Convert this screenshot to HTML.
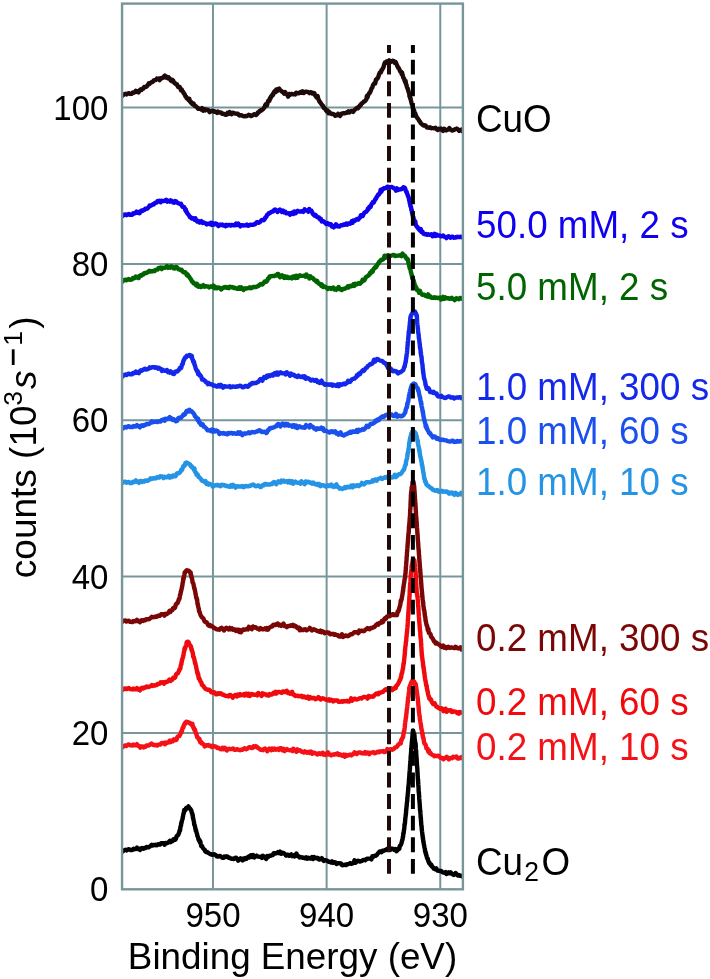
<!DOCTYPE html>
<html><head><meta charset="utf-8"><style>html,body{margin:0;padding:0;background:#fff;width:710px;height:979px;overflow:hidden}svg{display:block;will-change:transform}</style></head>
<body><svg width="710" height="979" viewBox="0 0 710 979"><rect width="710" height="979" fill="#fff"/><defs><clipPath id="c"><rect x="122.05" y="3.6" width="340.84999999999997" height="885.6999999999999"/></clipPath></defs><g stroke="#78959a" stroke-width="2"><line x1="212.97" y1="3.6" x2="212.97" y2="889.3"/><line x1="326.62" y1="3.6" x2="326.62" y2="889.3"/><line x1="440.27" y1="3.6" x2="440.27" y2="889.3"/><line x1="122.05" y1="732.96" x2="462.9" y2="732.96"/><line x1="122.05" y1="576.62" x2="462.9" y2="576.62"/><line x1="122.05" y1="420.28" x2="462.9" y2="420.28"/><line x1="122.05" y1="263.94" x2="462.9" y2="263.94"/><line x1="122.05" y1="107.60" x2="462.9" y2="107.60"/></g><g clip-path="url(#c)" fill="none" stroke-width="4.4" stroke-linejoin="round" stroke-linecap="round"><path d="M121.0 851.9L122.1 851.9L123.4 850.8L124.3 850.2L125.4 849.8L126.5 850.5L127.7 849.6L128.9 849.2L130.1 850.1L131.2 849.9L132.3 850.0L133.5 848.8L134.6 849.2L135.7 849.0L136.9 847.7L137.9 849.0L139.0 848.7L140.0 850.0L141.1 848.4L142.2 848.0L143.3 848.8L144.3 847.9L145.4 848.1L146.5 847.0L147.5 847.1L148.6 847.3L149.6 846.7L150.6 845.9L151.7 844.7L152.7 845.5L153.8 845.0L154.9 845.2L155.9 844.7L157.0 845.2L158.0 844.2L159.1 844.3L160.2 844.5L161.2 843.1L162.3 843.4L163.4 843.1L164.5 844.7L165.6 843.0L166.7 843.2L167.7 842.9L168.8 842.0L169.8 840.8L170.7 842.2L171.7 840.8L172.6 841.1L173.5 839.2L174.3 839.2L175.1 839.8L175.8 839.2L176.5 836.5L177.1 835.6L177.7 835.5L178.2 835.0L178.7 833.5L179.2 832.5L179.5 830.7L179.8 830.9L180.1 830.3L180.3 828.1L180.6 826.4L180.8 825.8L181.0 825.8L181.2 823.0L181.5 823.1L181.7 821.4L181.9 821.0L182.2 819.8L182.4 818.9L182.6 818.9L182.8 817.0L183.0 816.6L183.3 814.5L183.5 813.3L183.8 813.1L184.2 810.0L184.8 810.9L185.4 810.0L186.1 808.1L186.9 808.6L187.6 807.6L188.5 806.4L189.4 808.5L190.2 808.7L191.0 809.9L191.4 810.9L191.7 812.7L192.0 812.8L192.3 813.7L192.5 815.1L192.7 814.7L192.9 818.0L193.1 817.5L193.3 819.6L193.5 819.6L193.7 820.7L194.0 822.1L194.2 824.7L194.4 824.9L194.6 825.0L194.9 826.2L195.1 826.7L195.3 828.4L195.6 829.1L195.8 830.9L196.1 830.5L196.4 832.2L196.7 832.9L197.1 834.1L197.4 836.1L197.8 836.7L198.2 838.1L198.5 839.5L199.0 840.5L199.4 839.7L199.8 842.0L200.3 841.4L200.7 843.6L201.2 846.0L201.7 845.6L202.2 846.4L202.7 847.7L203.3 848.5L203.9 849.3L204.5 849.5L205.4 851.5L206.3 852.1L207.2 851.9L208.2 852.8L209.3 853.5L210.3 854.2L211.3 854.2L212.4 854.8L213.5 854.5L214.6 854.3L215.7 855.0L216.8 856.3L218.0 856.6L219.0 856.2L220.0 855.9L221.1 856.7L222.2 857.8L223.3 857.8L224.3 856.5L225.4 857.1L226.5 856.3L227.6 856.6L228.6 857.7L229.7 857.7L230.7 858.5L231.8 858.8L232.9 858.7L233.9 859.1L235.0 857.9L236.1 857.7L237.2 859.0L238.2 860.7L239.3 859.3L240.4 858.4L241.5 859.5L242.5 860.3L243.5 858.5L244.5 859.5L245.5 858.0L246.4 858.7L247.3 857.7L248.2 856.8L249.2 857.5L250.2 855.5L251.2 855.2L252.2 857.0L253.3 855.1L254.4 857.4L255.5 856.1L256.5 855.6L257.6 856.5L258.7 856.7L259.8 856.9L260.8 856.8L261.9 857.9L262.9 855.7L264.0 857.1L265.0 857.5L266.1 858.9L267.1 856.1L268.1 857.0L269.0 855.9L270.0 855.7L270.9 855.9L271.9 855.1L272.8 855.1L273.8 853.1L274.7 853.2L275.6 853.5L276.7 853.1L277.9 852.1L279.0 853.1L280.1 851.7L281.2 853.8L282.3 852.8L283.3 852.9L284.2 853.5L285.2 854.4L286.1 855.5L287.1 854.6L288.1 854.9L289.1 855.8L290.1 854.9L291.1 854.4L292.2 856.2L293.2 855.4L294.3 856.4L295.4 854.9L296.4 853.6L297.5 856.0L298.6 856.1L299.6 857.5L300.7 857.1L301.7 857.3L302.8 857.9L303.8 857.6L304.9 858.2L306.0 857.4L307.0 858.7L308.0 857.7L309.0 857.9L310.0 858.5L311.1 858.5L312.1 857.0L313.1 859.0L314.1 857.0L315.1 858.0L316.1 858.2L317.1 857.8L318.1 858.1L319.0 859.5L319.9 859.3L320.9 859.4L321.8 858.2L322.7 859.3L323.7 861.0L324.6 860.6L325.7 860.1L326.7 860.6L327.8 861.0L328.8 861.9L329.9 861.9L331.0 862.5L332.0 861.4L333.0 862.9L334.2 862.1L335.4 862.4L336.5 864.0L337.6 863.1L338.7 863.1L339.8 863.3L340.9 863.4L341.9 865.1L342.9 865.2L343.9 865.0L345.0 864.6L346.0 865.1L347.0 864.1L348.0 864.2L349.1 863.8L350.2 863.1L351.3 863.8L352.4 863.5L353.5 862.9L354.5 860.4L355.6 862.8L356.6 861.8L357.7 860.8L358.7 860.9L359.8 861.5L360.8 861.3L361.9 860.9L363.0 860.2L364.0 859.9L365.1 860.3L366.2 859.4L367.3 858.6L368.3 858.6L369.4 858.6L370.4 858.5L371.4 859.4L372.3 856.3L373.2 857.0L374.2 856.0L375.1 855.6L376.0 855.7L376.9 854.9L377.9 853.3L378.8 852.5L379.7 851.4L380.7 851.8L381.7 852.2L382.6 850.7L383.6 850.9L384.5 850.4L385.5 849.8L386.4 850.0L387.3 848.9L388.5 848.2L389.8 847.9L391.0 849.4L392.1 848.6L393.2 848.8L394.3 849.9L395.4 849.1L396.5 851.2L397.4 850.4L398.1 849.1L398.7 848.3L399.3 848.7L399.8 846.1L400.3 845.4L400.8 844.8L401.1 844.1L401.5 843.1L401.7 842.4L402.0 840.9L402.2 840.1L402.4 840.0L402.7 838.5L402.9 836.6L403.1 837.0L403.3 833.2L403.5 833.8L403.6 833.3L403.7 832.7L403.9 831.1L404.0 829.9L404.1 829.6L404.3 828.1L404.4 827.5L404.5 824.2L404.6 825.4L404.7 823.6L404.9 823.7L405.0 822.6L405.1 821.5L405.2 819.6L405.3 819.1L405.4 817.5L405.6 816.8L405.7 815.4L405.8 813.8L405.9 814.9L406.0 813.0L406.1 810.1L406.2 811.2L406.3 808.6L406.4 808.5L406.5 807.2L406.6 806.2L406.7 805.7L406.8 804.3L406.9 802.5L407.0 802.5L407.1 801.7L407.2 801.6L407.3 799.0L407.4 797.4L407.5 796.9L407.6 796.6L407.7 794.5L407.8 793.6L407.9 793.4L408.0 792.0L408.1 791.1L408.2 789.5L408.3 788.3L408.3 787.7L408.4 786.8L408.5 785.7L408.6 785.3L408.7 784.3L408.8 783.2L408.9 782.1L409.0 780.1L409.0 778.9L409.1 779.2L409.2 777.6L409.3 776.6L409.4 774.7L409.4 774.3L409.5 773.0L409.6 771.8L409.7 770.9L409.8 769.3L409.8 769.4L409.9 769.2L410.0 766.9L410.0 766.5L410.1 764.7L410.2 765.0L410.3 764.9L410.3 761.8L410.4 761.5L410.5 761.5L410.6 759.7L410.6 758.4L410.7 755.8L410.8 756.0L410.9 755.7L410.9 755.0L411.0 753.5L411.1 751.6L411.2 750.5L411.2 748.6L411.3 748.1L411.4 748.7L411.5 746.8L411.6 744.9L411.7 745.6L411.8 742.2L411.9 742.9L412.0 740.4L412.1 739.5L412.3 738.3L412.4 736.7L412.5 736.1L412.6 734.1L412.8 732.8L412.9 731.7L413.0 730.5L413.2 730.7L413.3 731.7L413.4 731.7L413.6 732.5L413.8 734.1L413.9 733.5L414.1 734.4L414.3 734.3L414.5 736.3L414.7 739.4L414.8 739.6L415.0 740.6L415.2 742.3L415.3 742.1L415.5 744.1L415.6 744.9L415.7 745.3L415.8 748.4L415.9 749.6L416.0 749.8L416.1 751.3L416.2 751.4L416.2 753.4L416.3 754.7L416.4 756.3L416.4 757.4L416.5 757.7L416.6 758.3L416.7 758.9L416.7 760.2L416.8 762.1L416.9 763.1L416.9 763.7L417.0 765.8L417.1 766.0L417.1 766.6L417.2 767.4L417.3 768.6L417.3 768.8L417.4 769.8L417.4 771.7L417.5 772.1L417.6 773.3L417.6 775.4L417.7 775.5L417.8 777.6L417.8 777.7L417.9 779.9L418.0 780.3L418.1 779.6L418.1 782.6L418.2 782.6L418.2 782.3L418.3 784.7L418.4 785.7L418.4 785.6L418.5 787.1L418.6 788.9L418.6 790.5L418.7 791.4L418.8 792.5L418.9 793.4L418.9 791.9L419.0 794.2L419.1 795.9L419.1 795.0L419.2 798.4L419.3 799.6L419.4 799.4L419.4 800.8L419.5 801.4L419.6 803.1L419.7 804.1L419.7 805.1L419.8 805.4L419.9 807.4L420.0 807.9L420.0 809.8L420.1 810.3L420.2 810.0L420.3 811.1L420.4 813.2L420.5 813.9L420.6 815.7L420.6 817.0L420.7 817.5L420.8 817.4L420.9 818.8L421.0 821.1L421.1 821.0L421.2 823.5L421.2 823.7L421.3 825.2L421.4 825.2L421.5 826.7L421.6 825.7L421.7 828.7L421.8 830.2L421.9 830.1L422.0 831.2L422.2 832.7L422.3 833.7L422.4 834.0L422.5 836.1L422.7 835.6L422.8 838.6L423.0 837.9L423.1 839.3L423.3 841.8L423.4 841.2L423.6 841.8L423.7 844.0L423.9 844.3L424.1 845.1L424.3 846.4L424.4 847.3L424.6 848.1L424.9 849.0L425.1 851.7L425.3 851.0L425.6 853.3L425.9 852.7L426.1 855.1L426.4 854.9L426.7 856.5L427.1 858.3L427.4 858.5L427.8 858.5L428.1 860.4L428.6 861.6L429.0 863.0L429.5 862.7L430.1 864.1L430.8 865.2L431.4 864.9L432.2 866.8L432.9 867.0L433.7 868.6L434.5 868.9L435.4 869.4L436.3 868.4L437.2 870.5L438.1 870.7L439.1 870.6L440.1 871.1L441.2 870.9L442.2 872.1L443.3 872.6L444.3 872.7L445.4 872.1L446.4 873.9L447.4 873.5L448.5 872.4L449.5 873.2L450.6 872.3L451.6 873.6L452.7 874.3L453.7 874.9L454.7 873.8L455.6 873.0L456.5 874.3L457.7 875.5L458.9 874.9L460.0 875.8L461.0 875.7L462.0 876.3L463.1 875.7L464.0 874.9L465.0 875.7" stroke="#000000"/><path d="M121.0 747.5L122.1 747.6L123.4 746.5L124.3 745.8L125.4 745.4L126.5 745.9L127.7 744.9L128.9 744.4L130.1 745.4L131.2 745.3L132.4 745.5L133.5 744.5L134.6 745.2L135.8 745.2L136.9 744.2L138.0 745.8L139.2 746.0L140.3 747.7L141.4 746.4L142.6 746.4L143.7 747.4L144.7 746.5L145.6 746.7L146.6 745.4L147.5 745.4L148.5 745.5L149.4 745.0L150.4 744.4L151.5 743.5L152.7 744.7L153.8 744.6L154.9 745.2L156.1 745.0L157.2 745.6L158.3 744.6L159.4 744.5L160.6 744.6L161.7 743.0L162.8 743.1L163.9 742.7L164.9 744.3L165.9 742.6L166.9 742.9L167.9 742.6L168.8 741.7L169.8 740.6L170.7 742.1L171.8 740.7L172.9 741.2L173.9 739.3L174.9 739.5L175.8 740.1L176.6 739.6L177.3 737.0L178.1 736.2L178.7 736.3L179.4 736.0L180.0 734.7L180.5 734.0L180.9 732.1L181.4 732.3L181.8 731.6L182.2 729.5L182.6 727.8L183.0 727.4L183.4 727.5L183.9 724.7L184.5 724.8L185.0 723.0L185.6 722.7L186.2 721.8L186.8 721.6L187.9 722.6L189.0 722.4L190.1 723.7L190.7 723.3L191.3 723.8L191.9 725.3L192.4 723.9L193.0 726.9L193.5 728.0L193.9 727.8L194.3 729.9L194.7 730.1L195.1 729.8L195.5 732.3L195.9 732.8L196.3 734.1L196.8 735.3L197.2 737.2L197.7 737.3L198.3 738.2L198.8 739.5L199.4 738.9L200.0 742.1L200.6 741.3L201.3 743.3L202.0 742.9L202.8 743.6L203.7 744.5L204.6 746.4L205.6 745.8L206.6 745.1L207.6 745.5L208.6 745.0L209.6 746.0L210.7 745.8L211.8 747.0L212.9 745.7L214.0 746.6L215.1 746.5L216.3 746.8L217.3 748.0L218.4 747.8L219.4 748.4L220.5 749.1L221.6 749.3L222.6 747.7L223.7 749.2L224.8 747.8L225.9 749.0L226.9 750.4L228.0 749.0L229.1 748.8L230.1 749.1L231.2 749.0L232.2 749.0L233.2 748.5L234.4 749.8L235.6 749.8L236.8 749.1L237.9 749.6L239.0 749.9L240.0 750.2L241.2 749.7L242.2 749.9L243.5 749.0L244.3 748.3L245.2 748.4L246.2 749.2L247.2 748.8L248.3 747.9L249.4 747.1L250.5 747.4L251.6 748.1L252.6 747.8L253.6 746.3L254.7 746.9L255.7 746.1L256.8 746.7L257.8 748.0L258.8 748.3L259.8 749.3L260.9 749.9L262.0 749.8L263.0 750.2L264.0 749.0L265.0 748.6L266.1 749.8L267.2 751.3L268.2 749.6L269.3 748.5L270.3 749.5L271.3 750.2L272.2 748.5L273.4 749.7L274.5 748.5L275.6 749.7L276.7 749.2L277.8 748.7L278.9 749.9L280.0 748.3L281.2 748.3L282.3 750.3L283.4 748.7L284.6 751.1L285.7 749.7L286.8 749.1L287.9 749.9L289.0 750.1L290.1 750.2L291.3 750.0L292.5 751.0L293.4 748.7L294.4 750.0L295.4 750.3L296.4 751.9L297.5 749.4L298.5 750.7L299.6 750.2L300.6 750.7L301.6 751.7L302.6 751.7L303.7 752.5L304.8 751.2L305.8 751.9L306.9 752.7L308.0 752.6L309.0 751.8L310.0 753.0L311.1 751.7L312.2 753.7L313.2 752.7L314.3 752.7L315.3 753.2L316.3 753.7L317.4 754.5L318.4 753.4L319.5 753.3L320.6 754.1L321.6 753.2L322.7 752.8L323.7 754.6L324.8 753.8L325.9 755.0L326.9 753.5L328.0 752.3L329.1 754.5L330.1 754.4L331.2 755.4L332.2 754.6L333.3 754.5L334.3 754.7L335.3 754.0L336.4 754.4L337.5 753.4L338.5 754.9L339.6 754.2L340.6 754.6L341.7 755.6L342.8 755.8L343.8 754.6L344.9 756.7L346.0 754.8L347.1 755.7L348.1 755.5L349.2 754.8L350.3 754.5L351.4 755.4L352.4 754.5L353.5 754.0L354.6 752.3L355.6 752.9L356.7 754.1L357.7 753.3L358.7 752.4L359.8 752.5L360.8 752.7L361.9 753.3L363.0 753.0L364.0 753.5L365.1 752.2L366.2 753.5L367.2 752.5L368.3 752.7L369.3 754.1L370.4 752.9L371.5 752.6L372.5 752.4L373.6 752.1L374.6 753.3L375.7 753.0L376.7 752.3L377.7 751.8L378.8 752.2L379.9 751.3L380.9 751.5L382.0 751.4L383.1 751.0L384.2 752.0L385.3 751.9L386.3 751.4L387.3 749.0L388.3 751.3L389.3 750.3L390.3 749.2L391.3 749.2L392.2 749.7L393.1 749.3L394.0 748.7L394.9 747.7L395.9 747.1L396.7 747.1L397.6 745.8L398.4 744.5L399.1 744.0L399.7 743.5L400.3 742.9L400.8 743.3L401.3 739.7L401.7 740.0L402.1 738.5L402.5 737.8L402.9 737.5L403.2 736.4L403.4 734.3L403.7 733.0L403.9 731.3L404.1 731.1L404.3 731.0L404.4 729.0L404.6 728.7L404.7 727.7L404.8 726.4L404.9 725.8L405.0 724.0L405.2 722.4L405.3 721.2L405.4 721.6L405.6 719.8L405.7 718.8L405.8 718.6L406.0 716.5L406.1 717.3L406.2 715.5L406.4 713.7L406.5 712.6L406.6 712.8L406.7 710.2L406.8 709.6L407.0 709.0L407.1 708.1L407.2 707.0L407.3 706.2L407.4 704.7L407.5 703.9L407.6 703.9L407.7 702.4L407.8 700.6L408.0 701.2L408.1 697.6L408.2 698.1L408.3 697.5L408.5 696.7L408.6 695.1L408.7 693.7L408.9 693.3L409.0 691.6L409.1 691.0L409.3 687.5L409.4 688.7L409.6 686.8L409.8 687.0L410.1 686.0L410.5 684.8L411.0 682.9L411.5 682.4L412.0 681.1L412.6 681.2L413.4 681.2L414.3 681.7L415.1 684.9L415.4 684.8L415.7 683.8L416.0 687.0L416.2 686.6L416.3 688.6L416.5 689.5L416.6 690.6L416.8 692.2L417.0 692.8L417.1 692.9L417.3 694.8L417.4 696.1L417.6 698.2L417.7 697.4L417.8 697.7L417.9 699.1L418.0 700.7L418.0 700.6L418.1 701.7L418.2 703.7L418.3 704.3L418.4 705.6L418.5 706.1L418.6 707.0L418.7 708.5L418.8 709.7L418.9 710.7L419.0 712.3L419.2 713.5L419.3 714.5L419.4 715.4L419.5 715.5L419.7 716.4L419.8 718.7L419.9 719.2L420.1 720.3L420.2 720.4L420.4 722.1L420.5 722.8L420.7 723.6L420.8 724.8L421.0 725.1L421.2 727.2L421.3 729.0L421.5 728.7L421.7 730.2L421.9 730.3L422.1 732.6L422.3 734.4L422.5 733.3L422.7 735.1L422.9 737.3L423.1 737.6L423.3 738.4L423.5 737.9L423.8 740.3L424.0 742.0L424.3 743.3L424.6 743.7L424.9 743.7L425.2 744.5L425.5 744.5L426.0 746.1L426.5 748.7L427.1 748.9L427.7 749.0L428.3 751.7L429.0 750.5L429.7 753.3L430.4 752.9L431.3 754.1L432.2 754.9L433.2 755.1L434.3 756.3L435.4 755.8L436.6 756.0L437.4 756.0L438.3 755.6L439.3 756.3L440.3 757.7L441.3 757.7L442.4 758.3L443.4 759.3L444.5 758.0L445.6 758.0L446.7 756.8L447.7 757.6L448.8 759.4L449.8 758.3L450.9 757.9L452.0 758.2L453.1 756.7L454.2 757.4L455.3 757.1L456.4 756.5L457.5 758.5L458.6 758.6L459.5 757.8L460.4 758.1L461.3 757.2L462.0 758.2L463.1 758.5L464.1 759.0L465.0 759.1" stroke="#f41218"/><path d="M121.0 690.2L122.1 690.3L123.4 689.3L124.3 688.7L125.4 688.4L126.5 689.2L127.7 688.4L128.9 688.0L130.1 689.1L131.2 689.1L132.3 689.5L133.5 688.6L134.6 689.3L135.7 689.3L136.9 688.2L137.9 689.5L139.0 689.1L140.0 690.3L141.1 688.4L142.2 687.8L143.3 688.5L144.3 687.4L145.4 687.6L146.5 686.5L147.5 686.7L148.6 687.1L149.7 686.6L150.7 686.1L151.8 685.0L152.8 685.9L153.8 685.4L154.8 685.5L155.8 684.9L156.8 685.1L157.7 684.0L158.7 683.9L159.6 683.9L160.6 682.3L161.7 682.5L162.9 682.2L164.0 683.7L165.1 681.9L166.2 682.2L167.3 681.8L168.4 680.8L169.5 679.6L170.5 680.9L171.5 679.5L172.4 679.7L173.2 677.7L173.9 677.6L174.6 678.0L175.3 677.3L176.0 674.5L176.6 673.7L177.2 673.7L177.9 673.3L178.4 672.0L179.0 671.1L179.5 669.1L180.0 669.1L180.3 668.6L180.6 666.6L180.9 664.9L181.1 664.4L181.4 664.4L181.6 661.6L181.8 661.7L182.0 660.0L182.3 659.5L182.5 658.4L182.8 657.6L183.0 657.6L183.2 655.8L183.5 655.4L183.7 653.3L184.0 652.0L184.2 651.6L184.5 648.4L184.8 649.4L185.1 648.6L185.5 646.5L185.9 646.5L186.3 644.6L186.7 642.1L187.2 642.7L187.6 641.6L188.0 641.6L188.7 642.4L189.4 644.6L190.1 645.2L190.5 645.9L190.8 647.1L191.1 646.6L191.4 649.8L191.8 649.3L192.1 651.5L192.4 651.5L192.7 652.8L193.0 654.2L193.2 656.7L193.5 656.9L193.7 657.0L194.0 658.3L194.3 658.8L194.5 660.6L194.8 661.3L195.0 663.3L195.3 662.9L195.6 664.7L195.8 665.4L196.1 666.5L196.4 668.5L196.6 669.1L196.9 670.5L197.1 672.0L197.3 673.0L197.6 672.2L197.8 674.5L198.1 673.9L198.4 676.1L198.7 678.4L199.0 677.9L199.4 678.6L199.9 680.1L200.3 681.0L200.9 682.0L201.4 682.5L201.9 684.7L202.5 685.5L203.2 685.6L203.8 686.8L204.5 687.8L205.4 688.8L206.3 689.1L207.3 689.9L208.3 689.8L209.3 689.8L210.3 690.7L211.3 692.2L212.2 692.6L213.2 692.4L214.1 692.2L215.1 693.1L216.1 694.4L217.0 694.4L218.0 693.2L219.1 693.9L220.3 693.2L221.4 693.6L222.5 694.7L223.7 694.7L224.8 695.6L225.9 696.0L227.1 695.8L228.3 696.4L229.4 695.2L230.5 694.9L231.5 696.2L232.7 697.7L233.8 696.1L235.0 695.0L235.9 695.8L236.9 696.5L237.9 694.5L239.0 695.5L240.1 694.2L241.3 695.3L242.4 694.8L243.5 694.3L244.5 695.5L245.6 693.8L246.6 693.7L247.7 695.5L248.7 693.7L249.8 696.0L250.8 694.5L251.9 693.9L253.0 694.6L254.0 694.7L255.1 694.8L256.1 694.5L257.2 695.4L258.3 693.0L259.3 694.2L260.4 694.4L261.5 695.9L262.5 693.3L263.6 694.5L264.7 694.0L265.7 694.3L266.8 695.2L267.8 695.0L268.8 695.6L269.8 694.0L270.8 694.3L271.7 694.5L272.6 694.0L273.6 692.7L274.6 693.4L275.6 691.8L276.5 693.5L277.5 692.2L278.5 691.9L279.5 692.0L280.6 692.3L281.6 692.9L282.7 691.5L283.7 691.4L284.7 692.1L285.7 691.2L286.8 690.8L287.9 692.9L289.0 692.4L290.0 693.8L291.1 692.7L292.1 691.8L293.1 694.5L294.2 694.7L295.2 696.0L296.3 695.6L297.3 695.7L298.4 696.2L299.4 695.9L300.5 696.4L301.5 695.7L302.6 697.2L303.7 696.4L304.7 696.8L305.8 697.6L306.8 697.9L307.9 696.6L309.0 698.7L310.0 697.0L311.1 698.1L312.2 698.3L313.2 697.9L314.3 698.0L315.3 699.2L316.4 698.7L317.4 698.5L318.4 697.1L319.5 698.0L320.6 699.5L321.6 698.9L322.7 698.3L323.7 698.7L324.8 699.0L325.9 699.9L326.9 699.8L328.0 700.4L329.1 699.3L330.1 700.6L331.1 699.7L332.2 700.0L333.2 701.5L334.3 700.5L335.3 700.4L336.4 700.5L337.5 700.4L338.5 701.9L339.6 701.9L340.7 701.5L341.8 701.2L342.8 701.8L343.9 701.0L345.0 701.3L346.0 701.2L347.0 700.8L348.0 701.6L349.1 701.5L350.1 700.9L351.1 698.4L352.1 700.7L353.2 699.7L354.2 698.7L355.2 698.8L356.2 699.5L357.3 699.3L358.3 699.0L359.3 698.3L360.3 698.1L361.4 698.5L362.4 697.7L363.4 697.0L364.4 697.0L365.5 697.2L366.5 697.4L367.5 698.6L368.5 695.9L369.6 697.0L370.6 696.4L371.6 696.4L372.6 696.8L373.5 696.4L374.5 695.1L375.4 694.4L376.4 693.4L377.3 693.8L378.2 694.3L379.1 692.8L380.0 693.0L380.9 692.6L381.8 692.0L382.9 692.0L384.0 690.7L385.0 689.7L386.1 689.1L387.1 690.1L388.1 688.9L389.1 688.7L390.2 689.4L391.3 688.3L392.3 690.1L393.3 689.3L394.3 688.1L395.0 687.5L395.7 688.1L396.4 685.7L397.0 685.2L397.6 684.7L398.1 683.8L398.7 682.6L399.2 681.8L399.6 680.4L399.9 679.7L400.3 679.8L400.6 678.4L400.9 676.7L401.2 677.3L401.5 673.7L401.7 674.1L402.0 673.5L402.2 672.6L402.4 671.0L402.7 669.5L402.9 669.1L403.1 667.6L403.2 667.1L403.4 663.8L403.5 665.1L403.7 663.3L403.8 663.5L403.9 662.3L404.1 661.2L404.2 659.4L404.3 658.9L404.4 657.3L404.5 656.6L404.6 655.3L404.7 653.7L404.8 654.6L404.9 652.6L405.0 649.6L405.1 650.7L405.2 648.0L405.3 647.8L405.4 646.6L405.5 645.6L405.7 645.1L405.8 643.7L405.9 641.9L406.0 641.9L406.1 641.2L406.2 641.2L406.3 638.6L406.4 637.1L406.5 636.6L406.6 636.4L406.7 634.3L406.8 633.4L406.9 633.3L407.0 631.9L407.1 631.1L407.2 629.6L407.3 628.4L407.4 627.7L407.5 626.8L407.5 625.7L407.6 625.2L407.7 624.3L407.7 623.3L407.8 622.2L407.9 620.3L407.9 619.1L408.0 619.4L408.1 617.9L408.1 617.0L408.2 615.1L408.3 614.8L408.3 613.5L408.4 612.4L408.5 611.5L408.5 609.9L408.6 610.0L408.7 609.8L408.7 607.5L408.8 607.0L408.9 605.2L408.9 605.5L409.0 605.3L409.1 602.2L409.1 601.9L409.2 602.0L409.3 600.3L409.3 599.1L409.4 596.6L409.5 596.9L409.5 596.7L409.6 596.0L409.6 594.5L409.7 592.6L409.7 591.5L409.8 589.7L409.9 589.2L409.9 589.7L410.0 587.8L410.0 585.9L410.1 586.8L410.1 583.7L410.2 584.8L410.3 582.7L410.3 582.2L410.4 581.5L410.5 580.1L410.6 579.7L410.6 577.8L410.7 576.5L410.8 575.2L410.9 573.6L411.0 573.1L411.0 573.2L411.1 572.2L411.2 571.6L411.3 571.6L411.4 569.3L411.5 568.4L411.6 565.9L411.8 565.5L411.9 566.2L412.1 564.0L412.3 562.7L412.5 562.2L412.9 559.5L413.4 559.7L413.9 559.9L414.4 560.5L414.6 563.2L414.8 564.2L414.9 564.3L415.0 565.6L415.1 565.8L415.2 567.9L415.3 569.3L415.4 571.1L415.5 571.9L415.5 572.0L415.6 572.5L415.7 573.0L415.7 574.1L415.8 576.0L415.8 577.0L415.9 577.7L415.9 579.9L416.0 580.3L416.0 581.0L416.1 581.9L416.2 583.2L416.2 583.6L416.3 584.6L416.3 586.5L416.4 586.9L416.5 588.0L416.5 590.0L416.6 589.9L416.7 592.0L416.8 592.2L416.9 594.2L417.1 594.4L417.2 593.8L417.3 596.8L417.4 596.7L417.6 596.4L417.7 598.9L417.8 600.1L417.9 599.9L417.9 601.3L418.0 603.0L418.1 604.5L418.2 605.3L418.2 606.3L418.3 607.2L418.3 605.7L418.4 607.9L418.5 609.6L418.5 608.6L418.6 612.1L418.7 613.3L418.7 613.2L418.8 614.5L418.8 615.2L418.9 616.9L419.0 617.9L419.1 619.0L419.1 619.3L419.2 621.3L419.3 621.8L419.4 623.7L419.4 624.3L419.5 624.1L419.6 625.1L419.7 627.3L419.8 627.9L419.9 629.6L420.0 630.9L420.1 631.4L420.2 631.3L420.3 632.6L420.3 634.9L420.4 634.8L420.5 637.3L420.6 637.5L420.7 638.9L420.8 638.9L420.9 640.4L420.9 639.3L421.0 642.2L421.1 643.8L421.2 643.8L421.2 644.9L421.3 646.5L421.4 647.6L421.4 648.0L421.5 650.0L421.5 649.4L421.6 652.3L421.7 651.5L421.7 652.9L421.8 655.3L421.9 654.7L422.0 655.1L422.1 657.5L422.2 657.8L422.4 658.7L422.5 660.1L422.7 661.1L422.8 662.0L423.0 663.0L423.1 665.9L423.3 665.3L423.4 667.6L423.6 667.0L423.7 669.3L423.9 669.1L424.0 670.6L424.1 672.4L424.3 672.6L424.4 672.6L424.5 674.6L424.7 676.0L424.8 677.5L425.0 677.5L425.1 679.0L425.3 680.3L425.5 680.2L425.7 682.3L425.9 682.8L426.1 684.7L426.3 685.3L426.5 686.3L426.7 685.7L426.9 688.4L427.1 689.3L427.3 689.9L427.5 691.3L427.8 691.8L428.0 693.8L428.3 695.1L428.6 696.0L428.9 696.2L429.3 698.6L429.7 698.9L430.1 698.5L430.5 699.8L431.1 699.6L431.7 701.5L432.4 702.9L433.1 704.0L433.9 703.5L434.6 703.2L435.4 705.0L436.2 706.6L437.1 706.4L437.9 707.7L438.8 707.9L439.7 708.9L440.6 708.7L441.6 708.2L442.6 709.3L443.6 711.1L444.6 709.3L445.7 708.7L446.7 711.7L447.8 710.8L448.8 710.3L449.8 710.6L450.8 710.2L451.9 712.0L452.9 711.8L454.0 711.4L455.1 711.7L456.1 711.9L457.2 713.1L458.2 712.4L459.1 713.6L460.0 712.1L460.8 712.4L462.0 712.6L463.0 712.6L464.0 712.9L465.0 713.7" stroke="#f00a0e"/><path d="M121.0 621.9L122.1 622.0L123.4 621.0L124.3 620.6L125.4 620.5L126.5 621.5L127.7 620.9L128.9 620.7L130.1 621.9L131.2 621.9L132.3 622.1L133.5 620.9L134.6 621.4L135.7 621.1L136.9 619.9L137.9 621.2L139.0 620.9L140.0 622.2L141.1 620.6L142.2 620.1L143.3 620.9L144.3 620.0L145.4 620.2L146.5 619.1L147.5 619.1L148.6 619.3L149.7 618.7L150.7 617.9L151.8 616.7L152.8 617.4L153.8 616.9L154.9 617.0L155.9 616.4L156.9 616.7L157.9 615.7L159.0 615.6L160.0 615.7L161.1 614.2L162.3 614.4L163.4 614.1L164.5 615.6L165.6 613.8L166.7 614.0L167.7 613.4L168.7 612.3L169.7 610.8L170.6 611.8L171.5 610.1L172.4 610.1L173.1 608.0L173.8 607.8L174.5 608.2L175.1 607.4L175.8 604.6L176.4 603.6L177.0 603.6L177.5 603.2L178.0 601.8L178.4 601.0L178.8 599.1L179.2 599.2L179.5 598.6L179.8 596.5L180.0 594.8L180.3 594.3L180.5 594.3L180.8 591.5L181.0 591.7L181.3 590.0L181.5 589.6L181.7 588.5L181.8 587.6L182.0 587.6L182.2 585.8L182.4 585.4L182.6 583.4L182.8 582.1L183.0 581.8L183.2 578.4L183.5 579.3L183.7 578.3L183.9 576.2L184.1 576.4L184.4 574.6L184.7 572.4L185.0 573.1L185.3 571.8L186.0 571.0L186.7 570.3L187.5 570.9L188.7 570.6L189.8 571.9L190.2 572.9L190.6 572.3L190.9 575.5L191.2 575.0L191.4 577.2L191.7 577.3L192.0 578.5L192.3 579.9L192.5 582.4L192.8 582.6L193.0 582.6L193.3 583.8L193.5 584.2L193.8 586.1L194.0 586.7L194.3 588.7L194.5 588.2L194.8 589.9L195.0 590.6L195.2 591.7L195.5 593.7L195.7 594.4L195.9 595.7L196.2 597.2L196.4 598.3L196.6 597.6L196.9 599.9L197.1 599.4L197.3 601.6L197.5 604.0L197.7 603.6L197.9 604.6L198.1 606.1L198.3 607.0L198.6 608.1L198.8 608.6L199.0 610.9L199.3 611.7L199.6 611.9L199.9 613.1L200.4 614.5L200.9 615.8L201.4 616.4L202.0 617.5L202.6 617.8L203.2 618.1L203.8 619.4L204.5 621.3L205.2 622.0L206.0 622.2L206.7 622.4L207.5 623.7L208.3 625.4L209.2 625.9L210.0 625.2L210.9 626.3L211.8 626.0L212.8 626.7L213.9 628.0L215.0 628.2L216.1 629.1L217.3 629.5L218.4 629.3L219.5 629.7L220.6 628.3L221.7 627.8L222.9 628.9L224.0 630.4L225.2 628.7L226.4 627.7L227.6 628.7L228.7 629.5L229.9 627.9L230.9 629.3L232.0 628.4L233.0 629.8L234.0 629.7L235.0 629.5L236.0 631.0L237.0 629.7L238.1 629.8L239.1 631.9L240.1 630.1L241.1 632.2L242.1 630.4L243.0 629.4L244.1 629.8L245.1 629.6L246.0 629.4L246.9 628.8L247.9 629.4L248.9 626.8L249.9 627.7L250.9 627.7L251.9 629.1L252.9 626.4L254.0 627.6L255.0 627.1L256.1 627.6L257.2 628.6L258.3 628.6L259.3 629.5L260.4 628.1L261.5 628.7L262.6 629.4L263.7 629.3L264.9 628.4L266.0 629.5L267.0 628.0L268.0 629.7L268.8 628.3L269.8 627.5L270.5 626.9L271.3 626.5L272.2 626.5L273.2 624.9L274.2 624.6L275.4 625.1L276.6 624.1L277.8 623.6L278.9 625.4L280.0 624.7L281.2 625.9L282.4 624.7L283.5 623.6L284.6 626.1L285.7 626.1L286.8 627.1L287.8 626.2L288.8 625.9L289.8 626.0L290.8 625.3L291.8 625.7L292.8 624.8L293.8 626.3L294.8 625.6L295.8 626.2L296.8 627.5L297.8 628.3L298.8 627.6L299.8 630.3L300.9 628.9L301.9 630.0L303.0 630.1L304.2 629.4L305.3 629.2L306.5 630.3L307.7 629.6L308.7 629.4L309.7 627.9L310.8 628.9L311.8 630.4L312.9 629.9L314.0 629.3L315.0 629.7L316.1 630.2L317.2 631.1L318.2 631.1L319.3 631.7L320.4 630.7L321.4 632.1L322.5 631.3L323.5 631.7L324.6 633.3L325.7 632.4L326.7 632.4L327.8 632.5L328.9 632.6L329.9 634.2L331.0 634.2L332.0 634.0L333.0 633.8L334.0 634.7L335.0 634.2L336.0 634.8L336.9 635.0L337.9 635.1L338.8 636.4L339.8 636.6L340.9 636.5L342.0 634.3L343.1 637.0L344.2 636.3L345.4 635.4L346.5 635.6L347.4 636.2L348.4 636.0L349.3 635.4L350.3 634.5L351.2 634.1L352.2 634.2L353.2 633.2L354.2 632.3L355.2 632.2L356.2 632.2L357.2 632.3L358.2 633.3L359.3 630.5L360.3 631.5L361.3 630.8L362.4 630.8L363.4 631.2L364.4 630.9L365.5 629.6L366.5 629.0L367.5 628.1L368.5 628.7L369.6 629.3L370.6 627.9L371.6 628.1L372.6 627.7L373.6 627.0L374.5 627.0L375.5 625.6L376.5 624.6L377.5 623.8L378.4 624.6L379.3 623.1L380.2 622.6L381.0 622.8L381.8 621.1L382.8 622.1L383.6 620.6L384.4 618.9L385.2 618.1L386.0 618.7L386.9 616.5L387.8 616.4L388.8 616.4L389.7 616.1L390.6 615.5L391.6 615.2L392.5 614.2L393.4 614.1L394.4 615.2L395.5 615.0L396.4 614.2L397.0 615.1L397.6 611.5L398.1 611.8L398.5 611.0L398.9 610.0L399.3 608.3L399.6 606.9L399.9 606.4L400.2 604.8L400.4 604.1L400.7 600.6L400.9 601.8L401.2 600.0L401.4 600.1L401.7 598.9L401.9 597.9L402.1 596.0L402.3 595.5L402.5 594.0L402.6 593.4L402.8 592.1L402.9 590.5L403.1 591.5L403.2 589.6L403.4 586.7L403.5 587.8L403.7 585.2L403.8 584.9L404.0 583.7L404.1 582.7L404.3 582.3L404.4 580.9L404.6 579.1L404.7 579.2L404.9 578.5L405.0 578.5L405.2 575.9L405.3 574.2L405.4 573.9L405.5 573.8L405.6 571.8L405.6 571.0L405.7 571.0L405.8 569.6L405.9 568.7L405.9 567.1L406.0 565.9L406.1 565.2L406.2 564.2L406.3 563.0L406.3 562.5L406.4 561.5L406.5 560.4L406.6 559.4L406.6 557.5L406.7 556.4L406.8 556.8L406.9 555.3L406.9 554.4L407.0 552.5L407.1 552.2L407.2 550.9L407.2 549.7L407.3 548.9L407.4 547.2L407.4 547.3L407.5 547.1L407.6 544.7L407.7 544.2L407.8 542.4L407.8 542.6L407.9 542.4L408.0 539.1L408.1 538.9L408.2 539.0L408.2 537.3L408.3 536.1L408.4 533.5L408.5 533.8L408.6 533.5L408.7 532.8L408.8 531.2L408.9 529.3L408.9 528.2L409.0 526.3L409.1 525.8L409.2 526.2L409.3 524.3L409.4 522.4L409.5 523.2L409.6 520.1L409.6 521.1L409.7 519.0L409.8 518.4L409.9 517.6L409.9 516.4L410.0 516.1L410.1 514.1L410.1 512.8L410.2 511.4L410.2 509.8L410.3 509.2L410.4 509.3L410.4 508.1L410.4 507.4L410.5 507.3L410.5 504.8L410.6 503.6L410.6 501.3L410.7 501.0L410.7 501.7L410.8 499.6L410.8 498.2L410.9 497.6L410.9 495.1L411.0 495.0L411.1 493.4L411.2 491.7L411.3 492.6L411.4 491.6L411.5 489.7L411.6 489.0L411.7 487.1L411.9 487.2L412.0 486.5L412.2 485.6L412.4 484.2L412.6 482.3L412.9 481.4L413.4 481.7L413.8 483.6L413.9 485.2L414.1 485.9L414.2 486.5L414.3 488.6L414.3 489.0L414.4 489.6L414.5 490.7L414.6 492.0L414.6 492.5L414.7 493.7L414.8 495.8L414.9 496.1L414.9 497.3L415.0 499.3L415.1 499.2L415.1 501.3L415.2 501.4L415.3 503.5L415.3 503.8L415.4 503.3L415.5 506.4L415.5 506.5L415.6 506.3L415.7 508.9L415.7 510.0L415.8 510.0L415.9 511.6L416.0 513.5L416.0 515.1L416.1 516.0L416.2 517.1L416.2 518.0L416.3 516.6L416.4 518.8L416.5 520.5L416.5 519.5L416.6 523.0L416.7 524.1L416.8 524.0L416.8 525.4L416.9 526.0L417.0 527.7L417.1 528.7L417.1 529.8L417.2 530.1L417.3 532.2L417.4 532.7L417.5 534.6L417.5 535.2L417.6 535.0L417.7 536.0L417.7 538.1L417.8 538.7L417.9 540.4L418.0 541.7L418.0 542.1L418.1 542.0L418.2 543.3L418.3 545.6L418.3 545.4L418.4 548.0L418.5 548.1L418.6 549.5L418.6 549.5L418.7 551.1L418.8 550.0L418.9 552.9L418.9 554.4L419.0 554.4L419.1 555.5L419.2 557.1L419.2 558.2L419.3 558.6L419.4 560.6L419.5 560.0L419.5 562.9L419.6 562.1L419.7 563.5L419.8 566.0L419.8 565.4L419.9 566.0L420.0 568.3L420.1 568.8L420.2 569.8L420.3 571.0L420.3 571.9L420.4 572.6L420.5 573.6L420.6 576.4L420.7 575.9L420.7 578.1L420.8 577.5L420.9 579.9L421.0 579.8L421.1 581.4L421.2 583.3L421.3 583.6L421.3 583.7L421.4 585.8L421.5 587.2L421.6 588.8L421.7 588.8L421.8 590.4L421.9 591.7L422.0 591.5L422.1 593.6L422.2 594.1L422.3 596.0L422.3 596.5L422.4 597.4L422.5 596.7L422.6 599.1L422.7 599.7L422.9 600.6L423.0 602.1L423.2 602.7L423.3 604.8L423.4 606.1L423.6 607.1L423.7 607.3L423.9 609.8L424.0 610.2L424.2 609.9L424.4 611.5L424.5 611.5L424.6 613.6L424.8 615.2L424.9 616.6L425.1 616.4L425.2 616.5L425.4 618.6L425.6 620.7L425.8 620.9L426.1 622.8L426.3 623.5L426.5 625.1L426.8 625.5L427.1 625.7L427.4 627.5L427.7 630.0L428.0 628.9L428.4 629.0L428.8 632.8L429.2 632.6L429.6 632.9L430.0 633.8L430.5 634.1L431.0 636.7L431.6 637.3L432.1 637.7L432.7 638.8L433.3 639.7L434.0 641.5L434.8 641.5L435.6 643.4L436.4 642.6L437.3 643.4L438.2 644.1L439.1 644.6L440.1 645.3L441.1 646.5L442.1 647.0L443.2 645.7L444.1 647.6L445.1 647.0L446.1 648.2L447.1 647.1L448.2 646.7L449.2 647.9L450.2 647.9L451.2 647.3L452.3 647.7L453.3 647.9L454.4 648.1L455.4 646.8L456.4 647.3L457.3 648.2L458.4 648.5L459.5 648.1L460.5 647.3L461.5 649.5L462.7 648.5L463.8 648.0L465.0 649.9" stroke="#7a0606"/><path d="M121.0 483.2L122.1 483.2L123.4 482.2L124.3 481.8L125.4 481.7L126.5 482.7L127.7 482.2L128.9 482.0L130.1 483.1L131.1 483.0L132.0 483.0L133.0 481.7L133.9 482.1L134.9 481.7L135.9 480.4L136.9 481.7L137.9 481.4L139.0 482.8L140.0 481.2L141.1 481.0L142.2 482.0L143.3 481.2L144.3 481.6L145.4 480.5L146.5 480.7L147.5 480.9L148.6 480.3L149.6 479.5L150.6 478.3L151.7 479.0L152.7 478.3L153.8 478.5L154.9 477.9L155.9 478.3L157.0 477.3L158.0 477.4L159.1 477.6L160.2 476.2L161.2 476.6L162.3 476.4L163.4 478.1L164.5 476.7L165.5 477.3L166.6 477.3L167.7 476.7L168.8 475.9L169.8 477.6L170.7 476.5L171.8 477.1L172.9 475.4L173.9 475.7L174.9 476.4L175.8 476.1L176.7 473.7L177.6 473.1L178.4 473.4L179.2 473.2L180.0 472.1L180.6 471.5L181.2 469.7L181.8 470.0L182.3 469.4L182.8 467.5L183.4 466.0L184.0 465.6L184.7 465.7L185.4 463.1L186.1 463.6L186.8 462.6L187.8 463.3L188.9 463.6L190.0 464.5L191.0 466.4L191.7 466.3L192.3 467.7L192.8 467.5L193.3 468.2L193.9 469.8L194.4 468.4L194.9 471.3L195.5 472.5L196.0 472.6L196.5 474.8L197.0 475.0L197.7 474.6L198.4 476.9L199.2 477.1L200.1 478.2L201.0 479.1L201.9 480.7L202.8 480.6L203.7 481.1L204.6 482.1L205.6 481.2L206.6 484.0L207.6 483.0L208.6 484.6L209.6 483.9L210.7 484.3L211.8 485.0L212.9 486.7L214.0 486.0L215.1 485.1L216.3 485.4L217.3 484.8L218.4 485.6L219.4 485.3L220.5 486.1L221.6 484.7L222.7 485.4L223.7 485.0L224.8 485.1L225.9 486.1L226.9 485.8L228.0 486.2L229.1 486.7L230.1 486.7L231.2 485.0L232.2 486.4L233.2 484.9L234.4 486.1L235.6 487.6L236.8 486.2L237.9 486.2L239.0 486.6L240.0 486.5L241.2 486.5L242.3 486.0L243.5 487.2L244.4 486.9L245.3 486.0L246.4 486.1L247.5 486.2L248.6 486.2L249.7 485.6L250.8 485.7L251.9 484.9L253.0 484.4L254.0 484.9L255.1 486.1L256.2 486.2L257.2 485.8L258.3 485.4L259.3 486.1L260.4 487.1L261.5 486.7L262.5 485.1L263.6 485.3L264.6 484.0L265.7 484.0L266.7 484.6L267.7 484.2L268.8 484.6L269.9 484.6L270.9 484.0L272.0 484.2L273.0 482.6L274.1 482.0L275.2 482.9L276.2 484.3L277.3 482.4L278.4 481.2L279.4 481.9L280.4 482.5L281.5 480.6L282.5 481.7L283.6 480.5L284.6 481.7L285.7 481.3L286.8 481.1L287.8 482.4L288.9 480.9L289.9 480.9L291.0 482.9L292.1 481.2L293.1 483.6L294.2 482.2L295.3 481.6L296.3 482.5L297.3 482.7L298.4 482.9L299.4 482.7L300.5 483.7L301.5 481.3L302.6 482.6L303.7 482.8L304.7 484.2L305.8 481.4L306.9 482.4L307.9 481.7L309.0 482.0L310.0 482.9L311.1 482.8L312.2 483.7L313.2 482.5L314.3 483.4L315.3 484.3L316.3 484.5L317.4 483.9L318.4 485.3L319.5 484.1L320.6 486.1L321.6 485.1L322.7 485.1L323.7 485.4L324.8 485.9L325.9 486.6L326.9 485.4L328.0 485.3L329.1 486.1L330.1 485.2L331.2 484.6L332.3 486.5L333.3 485.7L334.4 486.9L335.4 485.5L336.4 484.4L337.5 486.9L338.5 487.2L339.6 488.6L340.6 488.3L341.6 488.5L342.5 488.9L343.2 488.3L344.1 488.4L345.0 487.0L345.8 488.0L346.7 486.9L347.7 486.8L348.9 487.4L350.0 487.2L351.2 485.6L352.4 487.4L353.5 485.4L354.6 486.2L355.6 486.1L356.7 485.4L357.7 485.1L358.8 486.1L359.8 485.3L360.9 484.8L361.9 482.9L363.0 483.4L364.0 484.4L365.1 483.4L366.2 482.3L367.2 482.2L368.3 482.1L369.3 482.4L370.4 481.9L371.5 481.9L372.5 480.3L373.6 481.2L374.7 479.7L375.7 479.5L376.8 480.6L377.8 479.1L378.8 478.6L379.9 478.2L380.9 477.8L382.0 478.9L383.0 478.5L384.0 477.8L385.0 477.2L386.0 477.7L387.1 476.7L388.1 477.0L389.1 476.9L390.1 476.6L391.1 477.6L392.4 477.5L393.6 477.1L394.8 474.7L396.0 477.1L397.1 475.9L398.2 474.5L399.3 474.1L400.3 474.2L401.1 473.5L401.9 472.5L402.7 471.1L403.4 470.1L404.0 469.7L404.4 468.1L404.8 466.6L405.1 465.8L405.3 465.0L405.5 464.3L405.8 464.6L406.1 461.0L406.3 461.3L406.5 459.8L406.8 459.0L407.0 458.7L407.2 457.5L407.4 455.5L407.6 454.2L407.8 452.5L408.0 452.4L408.1 452.3L408.3 450.2L408.4 449.8L408.6 448.8L408.8 447.5L408.9 447.0L409.0 445.1L409.2 443.6L409.3 442.3L409.5 442.7L409.7 440.8L409.8 439.8L410.0 439.5L410.2 437.4L410.4 438.2L410.7 436.5L411.1 434.4L411.5 433.0L412.0 433.2L412.6 431.0L413.8 431.3L415.0 432.4L415.5 433.2L415.9 433.9L416.2 435.2L416.5 435.8L416.8 437.1L417.0 439.0L417.3 439.5L417.5 439.7L417.7 442.2L417.8 440.7L418.0 443.2L418.2 444.6L418.4 445.9L418.6 446.3L418.8 447.1L419.0 448.8L419.1 449.3L419.3 450.9L419.5 449.6L419.7 453.0L419.9 453.2L420.1 455.5L420.3 456.3L420.5 457.3L420.7 457.5L420.9 459.1L421.1 459.6L421.3 461.0L421.5 461.8L421.7 462.4L421.9 465.4L422.1 465.5L422.2 464.6L422.4 467.7L422.6 467.1L422.8 469.0L422.9 469.8L423.1 470.8L423.3 472.4L423.4 472.9L423.6 473.0L423.8 475.1L424.0 476.4L424.1 478.4L424.3 477.9L424.5 478.3L424.8 479.8L425.1 481.5L425.5 481.4L425.9 482.4L426.3 484.2L426.9 484.7L427.5 485.7L428.2 485.7L428.9 486.3L429.8 487.3L430.7 488.0L431.7 488.4L432.6 489.5L433.6 490.1L434.6 490.5L435.6 490.8L436.6 490.1L437.6 490.2L438.7 491.7L439.7 491.3L440.8 491.5L441.9 490.8L443.0 491.7L444.0 491.5L445.0 491.5L446.0 491.9L447.0 491.4L448.1 492.7L449.1 493.6L450.2 492.5L451.2 493.2L452.2 492.5L453.2 493.9L454.4 494.8L455.6 492.8L456.7 493.7L457.9 494.9L459.1 494.3L460.1 494.2L461.1 492.8L462.0 494.2L463.1 495.0L464.1 495.4L465.0 494.9" stroke="#2594e4"/><path d="M121.0 429.1L122.1 429.1L123.4 427.9L124.3 427.2L125.4 426.9L126.5 427.5L127.7 426.6L128.9 426.1L130.1 427.1L131.2 427.0L132.3 427.1L133.5 426.0L134.6 426.5L135.7 426.3L136.9 425.1L137.9 426.4L139.0 426.1L140.0 427.3L141.1 425.6L142.2 425.2L143.3 425.9L144.3 424.9L145.4 425.1L146.5 423.9L147.5 424.0L148.6 424.1L149.7 423.5L150.7 422.6L151.8 421.4L152.8 422.2L153.8 421.7L155.0 421.9L156.2 421.5L157.3 422.1L158.4 421.3L159.5 421.4L160.6 421.6L161.7 420.0L162.7 420.0L163.6 419.4L164.6 420.7L165.6 418.8L166.6 419.1L167.7 418.8L168.7 418.1L169.7 417.1L170.7 419.0L171.8 418.5L172.8 420.0L173.9 419.3L174.9 420.3L176.0 421.3L177.1 420.9L178.1 418.4L179.2 417.7L180.1 418.0L180.9 417.9L181.7 416.8L182.5 416.1L183.4 414.5L184.2 414.9L185.0 414.4L185.9 412.4L186.7 410.9L187.6 410.8L188.4 411.5L189.5 409.8L190.6 411.4L191.7 411.3L192.7 412.6L193.5 413.2L194.2 414.2L194.8 416.1L195.5 416.3L196.1 417.8L196.7 417.7L197.2 418.5L197.7 420.1L198.2 418.9L198.8 421.9L199.4 422.9L200.1 422.8L201.0 424.8L201.8 424.9L202.7 424.3L203.6 426.6L204.5 426.7L205.5 427.7L206.5 428.7L207.5 430.3L208.5 430.0L209.6 430.4L210.7 430.9L211.8 429.5L212.9 431.8L214.1 430.2L215.2 431.4L216.3 430.5L217.4 431.0L218.4 431.9L219.3 434.0L220.3 433.6L221.4 433.1L222.5 433.5L223.6 433.0L224.7 433.8L225.9 433.5L227.1 434.3L228.2 432.9L229.3 433.5L230.4 433.0L231.6 432.9L232.7 433.7L233.8 433.2L235.0 433.4L236.0 433.9L237.1 433.9L238.1 432.3L239.2 433.8L240.3 432.4L241.4 433.7L242.4 435.2L243.5 433.7L244.6 433.4L245.6 433.7L246.7 433.3L247.7 433.1L248.7 432.3L249.8 433.3L250.8 432.9L251.9 432.0L253.0 432.1L254.1 432.2L255.2 432.2L256.3 431.5L257.4 431.6L258.4 430.8L259.4 430.1L260.4 430.6L261.5 431.8L262.5 432.1L263.5 431.9L264.4 431.7L265.4 432.3L266.3 433.0L267.1 432.3L267.9 430.2L268.7 430.0L269.6 428.3L270.5 427.9L271.4 428.3L272.3 427.6L273.3 427.6L274.2 427.2L275.2 426.4L276.3 426.3L277.3 424.6L278.3 424.0L279.3 424.9L280.4 426.4L281.4 424.7L282.5 423.6L283.6 424.6L284.6 425.5L285.7 423.8L286.8 425.1L287.8 424.2L288.9 425.7L290.0 425.5L291.0 425.4L292.1 426.7L293.1 425.2L294.2 425.2L295.3 427.2L296.3 425.6L297.4 428.0L298.5 426.7L299.5 426.2L300.6 427.2L301.6 427.4L302.6 427.5L303.8 427.2L304.9 427.8L306.1 425.1L307.2 426.0L308.3 426.0L309.4 427.5L310.4 425.0L311.4 426.5L312.3 426.4L313.3 427.2L314.2 428.6L315.2 428.8L316.1 429.7L317.2 428.2L318.2 428.6L319.2 428.9L320.2 428.5L321.2 427.7L322.2 429.1L323.2 428.3L324.2 430.9L325.2 430.5L326.3 430.8L327.3 431.4L328.4 431.9L329.5 432.6L330.7 431.4L331.8 431.3L333.0 432.2L334.0 431.5L335.1 431.3L336.3 433.5L337.4 433.1L338.5 434.6L339.6 433.4L340.6 432.4L341.5 434.8L342.7 434.7L343.8 435.6L345.0 434.6L345.9 434.2L346.9 434.1L347.9 433.2L349.0 433.1L350.2 431.8L351.3 432.7L352.4 431.5L353.5 431.4L354.6 431.9L355.6 431.8L356.7 430.1L357.7 432.0L358.8 429.8L359.8 430.5L360.9 430.3L361.9 429.4L362.9 428.9L363.8 429.6L364.8 428.6L365.7 427.8L366.7 425.7L367.6 426.0L368.5 426.8L369.5 425.6L370.4 424.2L371.3 423.9L372.1 423.6L372.9 423.7L373.8 422.9L374.6 422.7L375.4 420.8L376.3 421.4L377.1 419.8L377.9 419.3L378.8 420.2L379.7 418.5L380.7 417.7L381.6 417.0L382.6 416.3L383.5 417.0L384.5 416.4L385.4 415.4L386.4 414.7L387.3 415.0L388.4 414.1L389.6 414.5L390.7 414.5L391.8 414.5L392.9 415.8L394.0 416.0L395.1 415.9L396.1 413.9L397.2 416.8L398.2 416.3L399.2 415.6L400.1 415.9L401.2 416.4L402.3 416.0L403.3 415.2L404.2 413.9L404.7 413.1L405.2 412.7L405.5 411.1L405.8 409.4L406.1 408.5L406.4 407.7L406.7 406.9L407.0 407.3L407.2 403.8L407.5 404.1L407.7 402.6L407.9 401.9L408.1 401.6L408.4 400.4L408.6 398.4L408.8 397.1L409.0 395.5L409.2 395.3L409.4 395.2L409.6 393.0L409.8 392.6L410.0 391.6L410.2 390.4L410.5 389.9L410.8 388.2L411.3 386.5L411.9 385.1L412.6 385.5L413.2 383.8L413.9 383.5L414.7 384.6L415.5 384.3L416.3 387.3L417.0 387.8L417.4 387.8L417.8 388.6L418.1 390.8L418.4 390.2L418.7 391.7L419.0 393.2L419.2 394.5L419.5 395.4L419.7 396.6L420.0 397.1L420.2 398.2L420.4 400.2L420.6 400.8L420.8 401.0L421.0 403.6L421.2 402.1L421.4 404.6L421.6 406.1L421.8 407.3L422.0 407.7L422.2 408.3L422.3 410.1L422.5 410.6L422.7 412.1L422.9 410.8L423.1 414.2L423.3 414.4L423.5 416.6L423.7 417.5L423.9 418.5L424.1 418.6L424.4 420.3L424.6 420.9L424.9 422.3L425.1 423.1L425.4 423.7L425.7 426.7L426.0 426.7L426.3 425.7L426.7 428.7L427.1 428.1L427.6 429.9L428.0 430.6L428.5 431.5L429.0 432.9L429.6 433.3L430.2 433.2L431.0 435.0L431.9 435.9L432.9 437.5L433.8 436.5L434.8 436.5L435.7 437.5L436.6 438.7L437.5 438.0L438.5 438.5L439.6 439.8L440.5 439.6L441.4 440.0L442.3 439.6L443.3 439.7L444.4 440.2L445.5 440.4L446.5 440.5L447.6 441.1L448.7 441.4L449.8 441.5L450.8 441.5L451.9 440.7L453.0 440.6L454.1 442.0L455.2 441.6L456.3 441.7L457.4 440.9L458.5 441.6L459.5 441.3L460.4 441.2L461.3 441.4L462.0 440.9L463.1 442.0L464.1 442.8L465.0 441.5" stroke="#1a50ee"/><path d="M121.0 376.9L122.1 376.8L123.4 375.6L124.3 374.9L125.4 374.5L126.5 375.1L127.7 374.1L128.9 373.6L130.1 374.4L131.1 374.2L132.1 374.2L133.0 372.9L134.0 373.3L135.0 372.9L135.9 371.6L136.9 372.7L137.9 372.1L138.9 373.1L139.9 371.1L140.9 370.3L141.8 370.8L142.8 369.7L143.7 369.8L144.7 368.7L145.7 369.0L146.7 369.5L147.7 369.2L148.7 368.6L149.7 367.4L150.7 368.0L151.8 367.3L152.8 367.4L153.8 367.0L154.8 367.7L155.8 367.2L156.9 367.8L157.9 368.6L158.9 367.7L159.9 368.6L160.9 368.8L161.8 370.9L162.9 369.8L163.9 370.7L164.8 370.9L165.8 370.6L166.9 370.1L167.9 372.1L168.9 371.5L169.8 372.6L170.7 371.4L171.9 372.4L173.0 373.9L174.1 374.1L174.9 371.9L175.8 371.4L176.7 371.6L177.5 371.4L178.3 370.3L179.1 369.7L179.8 368.1L180.5 368.4L181.1 368.0L181.7 366.0L182.1 364.4L182.5 364.0L182.8 364.0L183.2 361.3L183.5 361.4L183.8 359.8L184.2 359.5L184.8 358.2L185.4 357.2L186.1 357.2L186.8 355.7L188.2 355.8L189.6 354.9L190.4 355.3L191.1 357.0L191.8 355.9L192.2 358.7L192.6 359.7L192.9 359.7L193.3 361.9L193.6 362.2L194.0 361.9L194.4 364.5L194.8 364.9L195.1 366.2L195.5 367.4L195.9 369.4L196.3 369.5L196.7 370.4L197.2 371.7L197.7 371.0L198.2 374.1L198.8 373.3L199.5 375.3L200.1 375.0L200.8 376.0L201.4 377.2L202.1 379.6L202.8 379.5L203.6 379.5L204.4 380.6L205.2 380.8L206.1 382.4L207.0 382.7L207.9 384.2L208.9 383.2L210.0 384.3L211.1 384.2L212.2 384.5L213.4 385.7L214.6 385.5L215.6 386.0L216.6 386.5L217.7 386.6L218.8 385.0L219.9 386.4L221.0 384.9L222.0 386.2L223.1 387.6L224.2 386.2L225.2 386.2L226.3 386.6L227.4 386.6L228.5 386.6L229.5 386.1L230.5 387.4L231.5 387.2L232.7 386.4L233.8 386.6L234.8 386.7L235.9 386.8L237.0 386.3L238.0 386.5L239.1 386.0L240.2 385.6L241.3 386.2L242.4 387.3L243.5 387.3L244.5 386.6L245.5 385.9L246.6 386.2L247.7 386.8L248.7 386.2L249.8 384.4L250.9 384.5L251.9 383.1L252.9 382.9L253.8 383.4L254.8 382.8L255.7 383.0L256.6 382.8L257.6 382.0L258.5 381.8L259.5 380.0L260.4 379.1L261.3 379.8L262.3 380.8L263.2 378.7L264.1 377.1L265.0 377.6L266.0 377.9L266.9 375.7L267.9 376.6L268.8 375.2L269.8 376.1L270.9 375.3L272.0 374.6L273.0 375.5L274.1 373.5L275.2 373.0L276.2 374.6L277.3 372.5L278.3 374.6L279.4 373.0L280.4 372.3L281.5 373.1L282.5 373.3L283.6 373.4L284.7 373.3L285.7 374.4L286.8 372.2L287.8 373.6L288.9 374.1L290.0 375.8L291.0 373.5L292.1 374.9L293.1 374.6L294.2 375.1L295.2 376.2L296.3 376.1L297.4 376.9L298.4 375.6L299.5 376.3L300.5 377.0L301.6 376.9L302.6 376.3L303.7 377.5L304.7 376.4L305.8 378.7L306.9 377.9L307.9 378.1L309.0 378.7L310.0 379.5L311.1 380.5L312.2 379.6L313.2 379.8L314.2 380.8L315.3 380.1L316.3 379.9L317.4 382.0L318.4 381.5L319.5 382.9L320.6 381.7L321.6 380.7L322.7 383.3L323.8 383.5L324.9 384.8L325.9 384.3L327.0 384.4L328.0 384.8L329.1 384.4L330.3 384.9L331.3 384.2L332.4 385.6L333.5 384.8L334.7 385.1L335.7 385.8L336.8 385.9L337.8 384.4L338.9 386.2L340.0 384.2L341.1 384.9L342.1 384.7L343.2 383.9L344.2 383.5L345.2 384.3L346.1 383.4L347.1 382.7L348.1 380.8L349.1 381.1L350.0 382.0L350.9 380.8L351.8 379.5L352.7 379.1L353.6 378.7L354.4 378.6L355.3 377.7L356.1 377.3L356.9 375.3L357.7 375.7L358.5 373.9L359.3 373.4L360.0 374.2L360.8 372.4L361.5 371.6L362.3 370.9L363.0 370.1L363.8 370.8L364.5 370.0L365.3 368.9L366.1 367.8L367.0 367.6L367.8 366.0L368.6 365.6L369.5 364.8L370.3 363.9L371.2 364.3L372.0 363.7L373.0 362.7L374.0 359.7L375.0 361.6L376.0 360.2L377.0 359.0L378.0 359.1L379.0 360.0L380.1 360.5L381.1 360.8L382.0 361.0L383.0 361.6L383.8 362.8L384.5 362.8L385.2 363.0L385.9 364.0L386.6 365.1L387.3 366.2L388.1 368.3L388.9 366.4L389.7 368.4L390.6 368.6L391.5 369.5L392.3 370.9L393.2 371.3L394.0 370.8L395.0 371.1L396.1 371.1L397.1 372.4L398.1 373.4L399.1 372.1L400.2 372.4L401.3 371.7L402.3 370.7L403.2 370.3L403.7 368.7L404.1 367.4L404.4 366.2L404.7 366.7L405.0 364.8L405.2 363.7L405.4 363.4L405.6 361.1L405.8 361.7L406.0 359.8L406.2 357.8L406.4 356.8L406.5 357.0L406.6 354.5L406.8 353.8L406.9 353.3L407.0 352.4L407.1 351.2L407.2 350.4L407.3 348.8L407.3 348.0L407.4 347.9L407.5 346.4L407.6 344.6L407.7 345.1L407.8 341.5L407.9 341.9L408.0 341.3L408.1 340.5L408.2 338.8L408.3 337.5L408.4 337.1L408.5 335.5L408.6 335.0L408.7 331.6L408.8 332.9L408.9 331.1L409.1 331.3L409.2 330.1L409.3 329.1L409.4 327.2L409.5 326.7L409.7 325.0L409.8 324.3L409.9 322.9L410.0 321.2L410.1 322.1L410.2 320.2L410.4 317.2L410.6 318.3L410.8 315.8L411.0 315.8L411.3 314.9L412.1 313.5L413.0 313.0L413.9 312.1L414.9 311.5L415.9 313.3L416.2 314.1L416.4 315.7L416.6 315.0L416.8 315.4L416.9 317.0L417.0 318.9L417.0 318.9L417.1 320.3L417.2 322.4L417.3 323.2L417.4 324.5L417.5 325.1L417.6 325.9L417.7 327.2L417.8 328.3L418.0 329.2L418.1 330.7L418.2 331.8L418.3 332.9L418.4 333.9L418.5 334.0L418.7 334.9L418.8 337.3L418.9 337.8L419.0 338.9L419.1 339.0L419.3 340.7L419.4 341.5L419.5 342.3L419.6 343.5L419.8 343.9L419.9 346.1L420.0 347.8L420.2 347.5L420.3 349.1L420.5 349.2L420.6 351.5L420.7 353.3L420.9 352.1L421.0 353.9L421.2 356.0L421.3 356.3L421.5 357.2L421.6 356.8L421.7 359.1L421.8 360.8L422.0 362.2L422.1 362.7L422.2 362.9L422.3 363.9L422.4 364.2L422.6 365.8L422.7 368.5L422.8 368.7L422.9 368.9L423.1 371.8L423.2 370.8L423.3 373.8L423.5 373.7L423.6 375.2L423.8 376.3L423.9 376.9L424.1 378.5L424.3 378.8L424.6 379.7L424.8 380.6L425.0 381.1L425.3 382.7L425.5 384.8L425.9 385.6L426.3 386.9L426.7 388.7L427.3 388.2L427.9 388.8L428.6 388.3L429.3 389.8L430.1 392.1L431.0 391.6L431.8 391.8L432.7 392.7L433.6 391.8L434.5 393.2L435.5 393.4L436.5 393.4L437.5 395.9L438.5 396.5L439.6 396.1L440.5 396.7L441.5 395.9L442.5 397.0L443.5 397.3L444.5 397.9L445.6 398.0L446.6 397.2L447.7 396.8L448.7 396.4L449.8 396.6L450.8 397.5L451.9 397.6L453.0 397.3L454.1 398.5L455.2 397.9L456.3 397.5L457.4 397.5L458.5 397.7L459.5 397.1L460.4 397.1L461.3 398.1L462.0 397.5L463.1 397.8L464.1 398.8L465.0 397.9" stroke="#1428ec"/><path d="M121.0 281.9L122.1 281.8L123.4 280.6L124.3 280.0L125.4 279.6L126.5 280.3L127.7 279.4L128.9 279.0L130.1 279.8L131.0 279.5L131.9 279.5L132.9 278.1L133.8 278.4L134.8 278.0L135.8 276.5L136.7 277.5L137.7 276.9L138.6 278.0L139.5 276.0L140.5 275.3L141.4 275.7L142.4 274.5L143.3 274.5L144.2 273.1L145.2 273.0L146.1 273.2L147.0 272.6L148.2 271.8L149.3 270.7L150.4 271.6L151.6 271.2L152.7 271.4L153.8 270.8L154.8 271.0L155.7 269.8L156.7 269.6L157.6 269.5L158.6 267.9L159.6 268.0L160.6 267.6L161.6 269.2L162.6 267.6L163.7 267.9L164.8 267.8L165.9 267.1L166.9 266.2L168.0 267.9L169.0 266.9L170.2 267.7L171.3 266.3L172.5 267.0L173.6 268.3L174.7 268.5L175.8 266.9L176.8 267.2L177.8 268.4L178.8 269.4L179.7 269.5L180.7 270.1L181.6 269.7L182.5 271.4L183.4 272.4L184.3 272.1L185.2 272.1L186.0 273.3L186.8 275.2L187.6 274.3L188.3 276.2L189.1 276.4L189.8 277.9L190.5 278.7L191.2 279.8L192.0 281.6L192.7 281.7L193.5 283.2L194.3 283.1L195.1 283.8L195.9 285.2L196.8 283.7L197.7 286.2L198.7 286.7L199.8 285.9L201.0 287.1L202.2 286.4L203.3 285.1L204.5 286.7L205.6 286.1L206.8 286.3L207.9 286.5L209.0 287.4L210.2 286.5L211.3 286.5L212.4 287.0L213.5 285.7L214.6 288.2L215.7 287.0L216.8 288.3L218.0 287.4L219.0 287.6L220.0 288.0L221.1 289.5L222.2 288.6L223.3 287.5L224.3 287.6L225.4 286.9L226.5 287.7L227.6 287.3L228.6 288.1L229.7 286.7L230.8 287.4L231.8 287.0L232.9 287.1L233.9 288.1L235.0 287.8L236.1 288.2L237.1 288.8L238.2 288.9L239.3 287.3L240.3 288.8L241.4 287.4L242.4 288.6L243.5 290.0L244.6 288.5L245.6 288.3L246.7 288.5L247.7 288.2L248.8 288.0L249.8 287.2L250.9 288.3L251.9 287.9L253.0 286.9L254.1 287.0L255.2 287.0L256.3 287.0L257.4 286.2L258.4 286.1L259.4 285.0L260.4 284.1L261.3 284.0L262.2 284.5L263.1 283.8L263.9 282.6L264.7 281.5L265.5 281.4L266.3 281.8L267.2 280.8L268.0 278.6L268.8 278.3L269.6 276.5L270.4 276.1L271.3 276.4L272.2 275.9L273.2 276.1L274.2 276.0L275.2 275.4L276.3 275.6L277.3 274.2L278.2 273.9L279.2 275.3L280.1 277.2L281.1 276.0L282.1 275.4L283.0 276.7L284.0 277.8L285.1 276.3L286.3 277.7L287.4 276.8L288.5 278.1L289.7 277.8L290.8 277.4L291.9 278.5L293.0 276.7L294.2 276.3L295.3 277.9L296.4 275.8L297.5 277.8L298.6 276.1L299.8 275.3L301.0 275.9L302.1 275.9L303.2 275.9L304.3 275.7L305.4 276.7L306.4 274.5L307.4 276.1L308.4 276.6L309.4 278.5L310.3 276.2L311.3 277.8L312.3 277.7L313.3 278.5L314.3 279.9L315.2 280.3L316.1 281.6L317.0 280.8L317.8 282.2L318.6 283.5L319.4 284.1L320.3 283.9L321.2 285.6L322.1 284.7L323.0 287.1L324.0 286.4L324.9 286.6L325.9 287.3L327.0 288.1L328.0 289.0L329.0 288.0L330.0 288.0L331.1 288.9L332.1 288.0L333.2 287.6L334.3 289.5L335.3 288.7L336.4 289.8L337.5 288.3L338.6 287.0L339.6 289.2L340.7 289.0L341.8 290.0L342.9 289.1L343.9 288.7L345.0 288.7L346.0 287.8L346.9 287.8L347.8 286.4L348.8 287.3L349.7 286.0L350.6 285.8L351.5 286.2L352.5 285.9L353.4 284.2L354.4 285.9L355.3 283.8L356.3 284.5L357.3 284.2L358.2 283.4L359.2 283.0L360.1 283.7L361.0 282.6L361.9 281.8L362.7 279.6L363.6 279.7L364.3 280.3L365.1 278.9L365.8 277.3L366.6 276.7L367.3 276.2L368.0 276.1L368.7 275.1L369.4 274.8L370.1 272.7L370.7 273.3L371.4 271.5L372.0 270.9L372.7 271.5L373.3 269.6L374.0 268.7L374.6 267.9L375.3 266.9L375.9 267.4L376.5 266.4L377.2 265.0L377.8 263.8L378.4 263.5L379.1 261.9L379.8 261.4L380.5 260.7L381.3 259.7L382.1 260.1L382.9 259.5L383.8 258.6L384.6 255.7L385.5 257.8L386.4 256.6L387.3 255.4L388.4 255.3L389.6 255.9L390.8 255.8L391.9 255.5L393.0 255.0L394.0 255.0L395.2 256.0L396.3 255.9L397.4 255.6L398.4 255.6L399.4 255.4L400.5 255.2L401.5 256.2L402.5 253.5L403.4 255.1L404.3 255.3L405.2 256.3L406.0 257.9L406.7 258.8L407.1 258.5L407.5 259.1L407.9 259.4L408.2 261.3L408.5 263.3L408.8 263.3L409.0 265.1L409.3 266.2L409.5 267.1L409.8 268.6L410.1 268.8L410.4 269.3L410.6 270.0L410.9 272.5L411.2 272.6L411.4 273.7L411.7 275.5L411.9 275.3L412.2 278.1L412.5 278.3L412.8 278.5L413.1 279.3L413.4 281.5L413.8 280.9L414.1 282.3L414.5 283.7L414.9 284.8L415.3 285.7L415.7 286.9L416.1 287.3L416.6 288.3L417.1 290.1L417.7 290.5L418.4 290.5L419.1 292.8L419.9 290.9L420.7 293.0L421.6 294.0L422.5 294.8L423.4 294.7L424.4 294.8L425.3 295.9L426.2 295.7L427.2 296.5L428.2 294.4L429.3 296.9L430.3 296.3L431.4 297.7L432.5 297.8L433.5 297.9L434.6 297.3L435.6 298.0L436.7 297.6L437.8 298.1L438.9 297.9L439.9 297.5L441.0 299.5L442.1 298.7L443.2 296.8L444.3 298.9L445.4 297.4L446.4 298.2L447.5 298.1L448.5 298.2L449.6 298.8L450.6 298.5L451.7 297.8L452.7 298.9L453.7 299.2L454.7 300.2L455.6 298.7L456.5 298.2L457.7 298.7L458.9 299.2L460.0 298.0L461.0 298.0L462.0 298.8L463.1 298.4L464.0 298.6L465.0 298.1" stroke="#006400"/><path d="M121.0 216.4L122.1 216.4L123.4 215.3L124.3 214.7L125.4 214.5L126.5 215.2L127.7 214.4L128.9 214.0L130.1 214.9L131.1 214.7L132.2 214.7L133.2 213.3L134.3 213.6L135.4 213.1L136.5 211.7L137.5 212.7L138.6 212.1L139.6 213.2L140.5 211.3L141.5 210.6L142.4 211.1L143.4 210.0L144.3 210.0L145.2 208.7L146.1 208.6L147.0 208.7L147.9 208.0L148.8 207.0L149.6 205.5L150.4 206.0L151.3 205.1L152.1 205.0L152.9 204.1L153.8 204.3L154.8 203.0L155.7 202.7L156.7 202.6L157.7 201.0L158.6 201.1L159.6 200.8L160.6 202.3L161.7 200.7L162.8 201.1L163.9 201.1L165.1 200.5L166.2 199.7L167.3 201.6L168.4 200.7L169.6 201.6L170.7 200.3L171.9 201.1L173.0 202.4L174.1 202.8L175.1 201.1L176.2 201.4L177.2 202.6L178.2 203.4L179.1 203.4L180.0 204.0L181.0 203.8L181.8 205.7L182.7 206.9L183.4 206.7L184.2 207.0L184.8 208.4L185.4 210.5L185.9 209.7L186.4 211.9L186.9 212.3L187.6 213.8L188.3 214.5L189.1 215.5L190.0 217.2L190.9 217.2L191.8 218.5L192.7 218.1L193.6 218.5L194.5 219.8L195.4 218.2L196.4 220.7L197.3 221.5L198.4 221.0L199.4 222.6L200.4 222.2L201.4 221.2L202.5 222.9L203.6 222.5L204.6 223.0L205.7 223.4L206.8 224.5L207.9 223.8L208.9 223.8L210.0 224.2L211.0 222.7L212.1 224.9L213.1 223.4L214.1 224.5L215.2 223.5L216.3 223.7L217.3 224.2L218.3 226.0L219.3 225.4L220.4 224.6L221.4 225.1L222.4 224.6L223.5 225.6L224.5 225.3L225.5 226.3L226.5 224.9L227.6 225.5L228.7 225.0L229.7 224.9L230.8 225.6L231.8 224.9L232.9 225.1L233.9 225.3L235.0 225.2L236.1 223.5L237.1 224.9L238.2 223.5L239.3 224.8L240.3 226.4L241.4 225.1L242.4 225.1L243.5 225.5L244.6 225.4L245.7 225.3L246.8 224.6L248.0 225.8L249.1 225.5L250.1 224.6L251.0 224.8L251.9 224.9L253.0 224.9L253.9 224.3L255.0 224.2L255.9 223.2L256.8 222.2L257.8 222.1L258.9 222.7L259.9 222.1L260.9 220.9L261.8 219.9L262.8 219.9L263.7 220.2L264.6 219.3L265.5 217.2L266.3 216.9L267.0 215.0L267.7 214.3L268.3 214.2L268.9 213.2L269.6 213.1L270.6 212.5L271.8 211.7L273.0 211.6L274.0 210.1L275.2 209.4L276.4 210.4L277.5 211.9L278.7 210.3L279.8 209.5L280.9 210.8L282.0 212.0L283.1 210.7L284.3 212.4L285.4 211.7L286.6 213.4L287.7 213.4L288.9 213.3L290.0 214.7L291.1 213.0L292.3 212.6L293.3 213.9L294.4 211.6L295.6 213.3L296.6 211.6L297.7 210.8L298.8 211.5L300.0 211.5L301.1 211.5L302.3 211.2L303.4 211.9L304.6 209.3L305.8 210.4L307.1 210.4L308.2 211.7L309.3 209.1L310.2 210.5L311.2 210.5L312.0 211.8L312.7 213.7L313.6 214.4L314.4 215.7L315.3 214.8L316.3 215.9L317.2 217.1L318.1 217.5L319.0 217.4L319.9 219.3L320.8 218.7L321.7 221.4L322.6 220.9L323.5 221.3L324.3 222.0L325.2 222.8L326.1 223.9L327.1 223.0L328.0 223.3L328.9 224.6L329.9 224.2L330.9 224.2L331.9 226.5L332.9 226.0L333.9 227.3L335.0 225.8L336.0 224.4L337.1 226.3L338.2 225.9L339.3 226.6L340.4 225.5L341.5 225.1L342.7 225.2L343.8 224.4L344.9 224.7L346.1 223.6L347.2 224.7L348.2 223.5L349.1 223.4L350.0 223.7L350.8 223.3L351.7 221.3L352.6 222.8L353.5 220.4L354.4 220.9L355.3 220.5L356.2 219.5L357.2 218.9L358.2 219.5L359.2 218.3L360.1 217.4L361.0 215.2L361.9 215.3L362.7 216.0L363.4 214.6L364.1 213.1L364.8 212.5L365.4 212.0L366.1 211.9L366.8 210.9L367.4 210.5L368.0 208.4L368.7 208.9L369.3 207.0L370.0 206.4L370.6 207.0L371.2 204.9L371.8 203.9L372.4 203.0L373.0 202.0L373.6 202.5L374.2 201.5L374.8 200.2L375.4 199.0L376.0 198.7L376.6 197.1L377.2 196.5L377.7 195.5L378.3 194.4L378.9 194.6L379.4 193.8L380.0 192.7L380.7 189.7L381.3 191.7L382.1 190.2L382.9 188.7L383.8 188.3L384.6 188.5L385.5 188.1L386.4 187.5L387.3 186.8L388.4 186.7L389.5 187.5L390.7 187.2L391.8 187.0L392.9 187.6L394.0 188.3L395.1 188.9L396.1 190.7L397.1 188.4L398.1 189.9L399.1 189.5L400.2 189.3L401.3 189.3L402.3 188.5L403.3 187.3L404.1 187.4L404.8 187.7L405.5 189.6L406.1 191.7L406.7 191.9L407.0 193.4L407.4 194.2L407.7 194.9L408.0 196.3L408.3 196.5L408.5 197.0L408.8 197.8L409.1 200.3L409.3 200.5L409.6 201.6L409.8 203.5L410.1 203.3L410.4 206.2L410.6 206.4L410.9 206.6L411.1 207.6L411.3 209.9L411.6 209.4L411.8 210.9L412.0 212.4L412.3 213.6L412.5 214.5L412.8 215.8L413.1 216.3L413.4 217.4L413.8 219.5L414.1 220.1L414.5 220.5L414.9 223.1L415.3 221.5L415.7 224.0L416.1 225.4L416.6 226.5L417.1 226.8L417.7 227.3L418.4 228.9L419.1 229.3L419.9 230.6L420.7 229.0L421.6 232.0L422.5 231.8L423.4 233.6L424.4 234.0L425.3 234.4L426.2 233.9L427.2 234.7L428.2 234.3L429.3 234.8L430.3 234.7L431.4 234.2L432.5 236.3L433.5 235.6L434.6 233.8L435.6 236.0L436.7 234.6L437.8 235.5L438.9 235.5L440.0 235.7L441.0 236.4L442.1 236.1L443.2 235.5L444.3 236.7L445.4 237.0L446.4 238.1L447.5 236.7L448.5 236.3L449.6 236.9L450.6 237.7L451.7 236.7L452.7 236.8L453.7 237.8L454.7 237.4L455.6 237.6L456.5 237.0L457.7 236.8L458.9 237.0L460.0 237.0L461.0 236.7L462.0 237.2L463.1 237.3L464.0 237.3L465.0 237.3" stroke="#1000f0"/><path d="M121.0 96.1L122.1 96.0L123.4 94.8L124.3 94.2L125.4 93.8L126.5 94.5L127.7 93.6L128.9 93.2L130.1 94.0L131.0 93.7L131.9 93.7L132.9 92.4L133.8 92.7L134.8 92.3L135.8 90.9L136.7 91.9L137.7 91.3L138.6 92.3L139.6 90.3L140.5 89.5L141.5 89.9L142.4 88.6L143.4 88.5L144.3 87.0L145.2 86.8L146.1 86.8L147.0 86.0L147.9 84.9L148.8 83.4L149.6 83.8L150.4 82.8L151.2 82.6L152.1 81.6L152.9 81.7L153.8 80.4L154.8 80.1L155.8 80.1L156.8 78.6L157.8 78.9L158.8 78.6L159.7 80.1L160.6 78.3L161.7 78.4L162.7 77.8L163.7 76.7L164.8 75.6L165.7 77.5L166.7 76.9L167.7 78.2L168.7 77.4L169.7 78.6L170.7 80.5L171.5 81.1L172.2 79.8L173.0 80.4L173.8 81.9L174.5 83.1L175.3 83.4L176.0 84.2L176.8 84.1L177.5 85.9L178.2 87.0L178.9 86.8L179.6 86.9L180.3 88.2L181.0 90.2L181.6 89.3L182.3 91.3L182.9 91.5L183.6 93.0L184.2 93.7L184.9 94.8L185.5 96.7L186.2 96.8L186.8 98.4L187.4 98.2L188.0 98.8L188.6 100.2L189.3 98.7L190.0 101.5L190.7 102.4L191.4 102.2L192.1 104.1L192.8 104.1L193.6 103.5L194.4 105.7L195.3 105.7L196.2 106.6L197.1 107.4L198.1 108.8L199.1 108.5L200.1 108.8L201.1 109.5L202.1 108.2L203.1 110.6L204.2 109.2L205.3 110.4L206.4 109.5L207.4 109.8L208.5 110.3L209.6 112.1L210.7 111.5L211.7 110.8L212.8 111.2L213.8 110.9L214.8 111.9L215.9 111.7L216.9 112.8L218.0 111.6L219.1 112.5L220.2 112.4L221.3 112.7L222.4 113.9L223.5 113.7L224.5 114.2L225.5 114.7L226.5 114.7L227.6 112.8L228.6 113.9L229.6 112.0L230.6 113.0L231.5 114.2L232.7 112.8L233.7 112.9L235.0 113.5L235.9 113.6L236.9 113.9L237.9 113.7L239.0 115.3L240.1 115.5L241.3 115.1L242.4 115.7L243.5 116.1L244.6 116.4L245.6 116.0L246.7 116.2L247.8 115.5L248.8 114.8L249.9 115.1L250.9 116.0L251.9 115.8L252.9 115.0L254.0 114.2L255.0 114.5L256.0 115.1L256.9 114.4L257.8 112.5L258.7 112.5L259.5 110.9L260.3 110.5L261.0 110.7L261.7 109.9L262.3 109.8L263.0 109.2L263.7 108.1L264.4 107.6L265.0 105.5L265.7 104.3L266.3 104.6L267.0 105.2L267.6 102.7L268.2 100.8L268.8 100.9L269.4 100.8L269.9 98.2L270.4 98.5L270.9 96.6L271.3 97.0L271.9 95.8L272.4 94.6L273.0 95.0L273.8 92.4L274.6 91.2L275.5 92.1L276.3 89.4L277.2 91.0L278.1 89.2L279.1 88.6L280.1 89.9L281.1 90.8L282.2 91.7L283.2 92.2L284.2 93.7L285.2 92.1L286.1 94.0L287.2 94.8L288.2 96.6L289.1 93.9L290.1 94.8L291.1 93.9L292.1 93.9L293.1 94.4L294.2 93.9L295.2 94.4L296.2 92.7L297.3 93.0L298.4 93.4L299.4 93.0L300.5 92.0L301.6 92.8L302.6 91.3L303.8 93.0L305.0 91.8L306.1 91.6L307.3 91.8L308.4 92.3L309.4 93.1L310.5 92.1L311.5 92.3L312.5 93.5L313.5 93.0L314.4 93.1L315.1 95.5L315.8 95.4L316.4 97.2L317.1 96.5L317.7 96.1L318.3 99.2L318.9 100.0L319.5 101.8L320.1 102.0L320.7 102.9L321.3 104.1L321.8 104.4L322.4 105.7L323.0 105.7L323.7 107.9L324.4 107.8L325.2 108.8L326.0 110.4L326.8 111.3L327.7 110.6L328.6 113.3L329.6 112.1L330.6 113.6L331.7 114.1L332.9 114.0L334.1 114.3L335.3 115.8L336.3 115.4L337.3 115.3L338.1 113.8L339.1 114.7L340.0 115.9L340.8 114.9L341.7 113.6L342.7 113.3L343.6 113.1L344.8 113.4L346.0 112.8L347.2 112.9L348.4 111.4L349.5 112.5L350.7 111.1L351.9 110.9L353.1 111.9L354.3 110.2L355.2 109.4L356.1 108.6L357.0 107.7L357.9 108.3L358.6 107.5L359.4 106.3L360.1 105.2L360.8 105.1L361.5 103.5L362.4 103.1L363.3 102.2L364.2 101.1L365.0 101.3L365.6 100.5L366.3 99.3L366.9 96.0L367.4 97.6L368.0 95.8L368.6 94.0L369.1 93.3L369.6 93.1L370.2 92.1L370.7 90.9L371.2 89.3L371.7 88.2L372.2 87.8L372.7 86.2L373.2 84.7L373.7 84.0L374.3 83.4L374.8 82.9L375.3 83.3L375.8 79.8L376.3 80.2L376.8 78.9L377.3 78.2L377.8 78.0L378.3 77.0L378.8 75.1L379.3 73.9L379.8 72.4L380.3 72.4L380.9 72.4L381.4 70.4L381.9 70.2L382.4 69.3L382.9 68.2L383.4 67.5L383.9 65.5L384.4 63.8L384.9 62.6L385.5 63.2L386.3 61.6L387.3 61.2L388.3 61.7L389.3 60.4L390.4 62.1L391.5 61.4L392.5 60.7L393.5 61.0L394.5 62.7L395.4 61.8L396.0 62.9L396.6 64.3L397.1 65.5L397.6 66.5L398.2 67.8L398.8 68.2L399.4 69.3L400.0 71.2L400.6 71.7L401.2 71.9L401.7 74.4L402.1 72.7L402.6 75.1L403.0 76.5L403.3 77.7L403.7 78.0L404.1 78.7L404.5 80.4L404.9 80.8L405.2 82.2L405.6 80.9L406.0 84.2L406.4 84.4L406.8 86.6L407.1 87.5L407.5 88.5L407.8 88.7L408.1 90.3L408.4 90.8L408.7 92.2L409.0 93.0L409.2 93.5L409.5 96.6L409.8 96.7L410.0 95.8L410.3 98.9L410.6 98.3L410.8 100.2L411.1 101.0L411.3 102.0L411.6 103.6L411.9 104.2L412.2 104.5L412.5 106.5L412.8 107.8L413.2 109.8L413.5 109.3L413.9 109.8L414.3 111.4L414.7 113.2L415.2 113.2L415.6 114.3L416.0 116.1L416.5 116.6L417.1 117.8L417.6 118.2L418.2 119.0L418.8 120.2L419.4 121.2L420.1 121.9L420.9 123.3L421.8 124.1L422.7 124.9L423.7 125.5L424.7 125.2L425.7 125.6L426.8 127.5L427.9 127.4L429.0 127.8L430.2 127.3L431.2 128.2L432.3 128.1L433.4 128.1L434.4 128.3L435.5 127.8L436.6 129.1L437.7 129.9L438.7 128.7L439.8 129.4L440.8 128.6L441.9 129.9L443.0 130.8L444.0 128.7L445.1 129.4L446.2 130.5L447.2 129.8L448.3 129.6L449.4 128.1L450.4 129.4L451.5 130.2L452.6 130.6L453.7 130.1L454.8 129.3L455.8 129.3L456.8 128.6L458.0 129.3L459.2 130.9L460.3 130.2L461.4 129.5L462.6 131.4L463.8 129.4L465.0 131.5" stroke="#1e0a08"/></g><line x1="389.0" y1="873.8" x2="389.0" y2="45" stroke="#1e0a08" stroke-width="4" stroke-dasharray="14.9 6.7"/><line x1="412.9" y1="873.8" x2="412.9" y2="45" stroke="#000" stroke-width="4" stroke-dasharray="14.9 6.7"/><rect x="122.05" y="3.6" width="340.85" height="885.70" fill="none" stroke="#78959a" stroke-width="2.4"/><g font-family="Liberation Sans, sans-serif" font-size="33" fill="#000"><text transform="translate(108.4,901.2) scale(1,1.04)" text-anchor="end">0</text><text transform="translate(108.4,744.9) scale(1,1.04)" text-anchor="end">20</text><text transform="translate(108.4,588.5) scale(1,1.04)" text-anchor="end">40</text><text transform="translate(108.4,432.2) scale(1,1.04)" text-anchor="end">60</text><text transform="translate(108.4,275.8) scale(1,1.04)" text-anchor="end">80</text><text transform="translate(108.4,119.5) scale(1,1.04)" text-anchor="end">100</text><text transform="translate(213.0,926.8) scale(1,1.04)" text-anchor="middle">950</text><text transform="translate(326.6,926.8) scale(1,1.04)" text-anchor="middle">940</text><text transform="translate(440.3,926.8) scale(1,1.04)" text-anchor="middle">930</text></g><g font-family="Liberation Sans, sans-serif" font-size="36.8" fill="#000"><text x="292.5" y="968.5" text-anchor="middle">Binding Energy (eV)</text><text transform="translate(476,131.8) scale(1,1.035)" fill="#000">CuO</text><text transform="translate(476,238.2) scale(1,1.035)" fill="#1000f0">50.0 mM, 2 s</text><text transform="translate(476,299.9) scale(1,1.035)" fill="#006400">5.0 mM, 2 s</text><text transform="translate(476,399.9) scale(1,1.035)" fill="#1428ec">1.0 mM, 300 s</text><text transform="translate(476,444.3) scale(1,1.035)" fill="#1a50ee">1.0 mM, 60 s</text><text transform="translate(476,494.7) scale(1,1.035)" fill="#2594e4">1.0 mM, 10 s</text><text transform="translate(476,651.1) scale(1,1.035)" fill="#7a0606">0.2 mM, 300 s</text><text transform="translate(476,714.8) scale(1,1.035)" fill="#f00a0e">0.2 mM, 60 s</text><text transform="translate(476,759.9) scale(1,1.035)" fill="#f41218">0.2 mM, 10 s</text><text transform="translate(476,875.2) scale(1,1.035)">Cu<tspan font-size="26.5" dx="1.2" dy="5.5">2</tspan><tspan dx="2.5" dy="-5.5">O</tspan></text><text transform="translate(36.0,523.70) rotate(-90)" text-anchor="middle" font-size="37">counts</text><text transform="translate(36.0,452.85) rotate(-90)" text-anchor="middle" font-size="37">(</text><text transform="translate(36.0,425.95) rotate(-90)" text-anchor="middle" font-size="37">10</text><text transform="translate(22.0,398.40) rotate(-90)" text-anchor="middle" font-size="26.5">3</text><text transform="translate(36.3,379.70) rotate(-90)" text-anchor="middle" font-size="37" font-style="italic">s</text><text transform="translate(22.0,338.40) rotate(-90)" text-anchor="middle" font-size="26.5">1</text><text transform="translate(36.0,322.65) rotate(-90)" text-anchor="middle" font-size="37">)</text><rect x="11.8" y="349.3" width="2.8" height="15.7" fill="#000"/></g></svg></body></html>
